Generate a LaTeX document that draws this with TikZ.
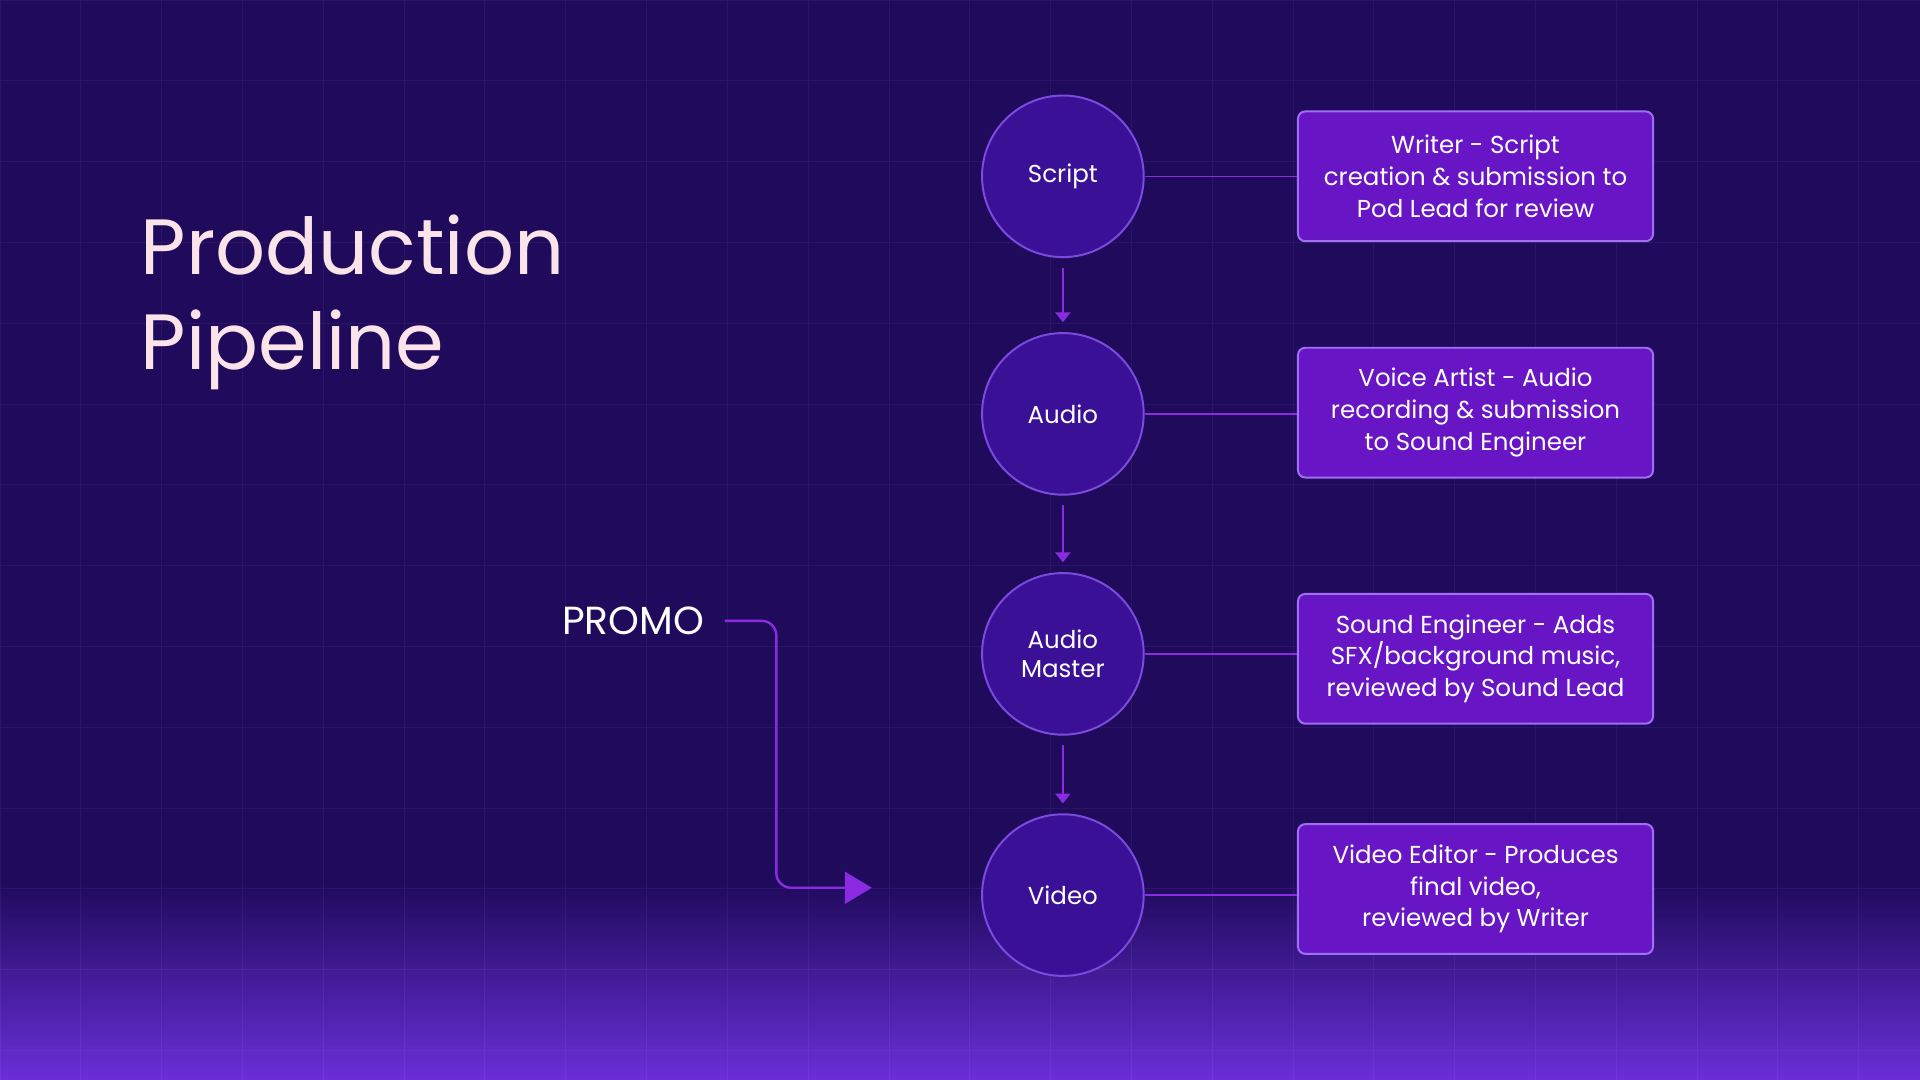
\documentclass[tikz,border=0pt]{standalone}
\usepackage{fontspec}
\setmainfont{Poppins}
\usetikzlibrary{positioning, arrows.meta}
\definecolor{bgdark}{HTML}{1F0A5C}
\definecolor{bglight}{HTML}{6A2ED8}
\definecolor{stepfill}{HTML}{3A1196}
\definecolor{stepline}{HTML}{7B4BE0}
\definecolor{notefill}{HTML}{6815C6}
\definecolor{noteline}{HTML}{A070F2}
\definecolor{wire}{HTML}{8A2BE2}
\definecolor{titlecol}{HTML}{FBE3EA}
\tikzset{
  stage/.style={circle, draw=stepline, line width=0.8pt, fill=stepfill,
    minimum size=66pt, text=white, font=\fontsize{10}{12}\selectfont, align=center},
  note/.style={draw=noteline, line width=0.8pt, fill=notefill, rounded corners=3pt,
    minimum width=145pt, minimum height=53pt, text=white,
    font=\fontsize{10}{13}\selectfont, align=center},
  link/.style={wire, line width=0.6pt},
  flow/.style={wire, line width=1pt, -{Triangle[width=6pt,length=4pt]}}
}
\begin{document}
\begin{tikzpicture}[x=0.5pt, y=-0.5pt]
\useasboundingbox (0,0) rectangle (1568,882);
\fill[bgdark] (0,0) rectangle (1568,882);
\shade[top color=bgdark, bottom color=bglight] (0,720) rectangle (1568,882);
\draw[white, opacity=0.05, step=33pt] (0,0) grid (1568,882);

\node[anchor=west, text=titlecol, align=left,
  font=\fontsize{32}{39}\selectfont] (title) at (108,247) {Production\\Pipeline};

\node[stage] (script) at (868,144) {Script};
\node[stage] (audio) at (868,338) {Audio};
\node[stage] (master) at (868,534) {Audio\\Master};
\node[stage] (video) at (868,731) {Video};

\node[note] (n1) at (1205,144) {Writer - Script\\creation \& submission to\\Pod Lead for review};
\node[note] (n2) at (1205,337) {Voice Artist - Audio\\recording \&  submission\\to Sound Engineer};
\node[note] (n3) at (1205,538) {Sound Engineer - Adds\\SFX/background music,\\reviewed by Sound Lead};
\node[note] (n4) at (1205,726) {Video Editor - Produces\\final video,\\reviewed by Writer};

\foreach \a/\b in {script/n1, audio/n2, master/n3, video/n4}
  \draw[link] (\a.east) -- (\a.east -| \b.west);
\foreach \a/\b in {script/audio, audio/master, master/video}
  \draw[flow] ([yshift=-4pt]\a.south) -- ([yshift=4pt]\b.north);

\node[text=white, font=\fontsize{16}{18}\selectfont] (promo) at (517,507) {PROMO};
\coordinate (promoend) at (712,725);
\draw[wire, line width=1pt, rounded corners=6pt, -{Triangle[width=13pt,length=11pt]}]
  ([xshift=5pt]promo.east) -| (634,725) -- (promoend);
\end{tikzpicture}
\end{document}
